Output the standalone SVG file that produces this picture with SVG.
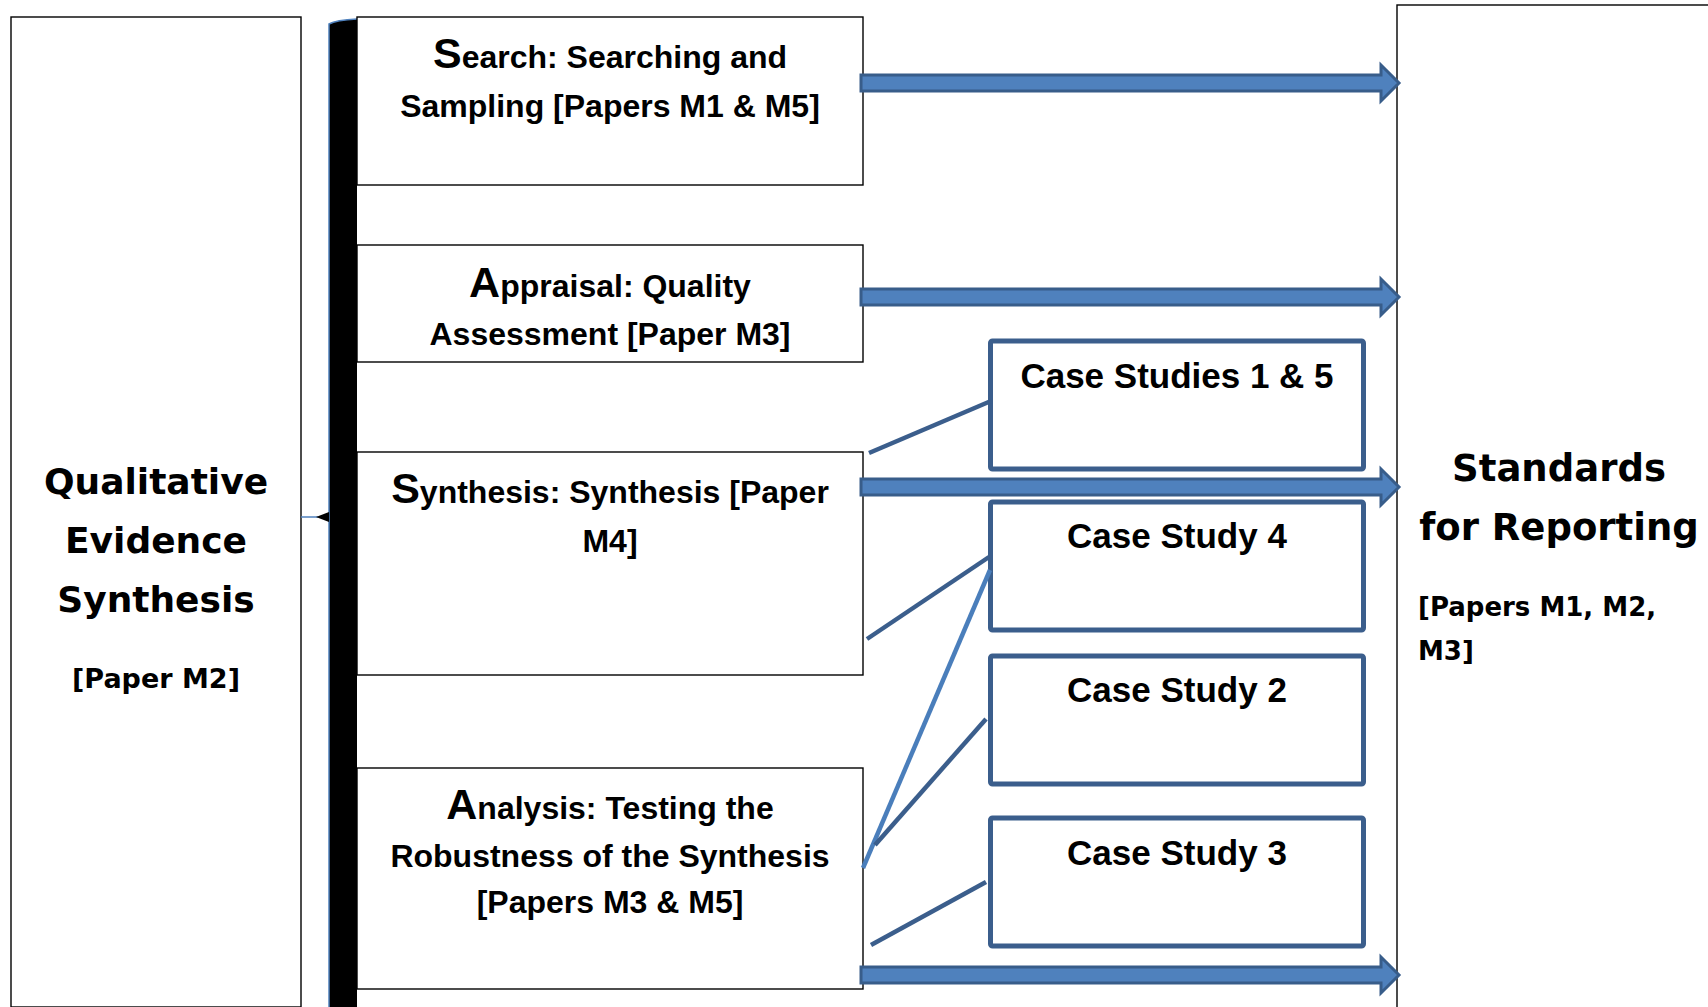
<svg xmlns="http://www.w3.org/2000/svg" width="1708" height="1007" viewBox="0 0 1708 1007">
<style>
.box{fill:#fff;stroke:#000;stroke-width:1.4}
.case{fill:#fff;stroke:#3b5e8c;stroke-width:5}
.pt{font-family:"Liberation Sans",Arial,sans-serif;font-weight:bold;font-size:32px;fill:#000;text-anchor:middle}
.big{font-size:43px}
.ct{font-family:"Liberation Sans",Arial,sans-serif;font-weight:bold;font-size:35px;fill:#000;text-anchor:middle}
.wt{font-family:"DejaVu Sans",sans-serif;font-weight:bold;fill:#000}
.arr{fill:#4f81bd;stroke:#385d8a;stroke-width:3;stroke-linejoin:miter}
.ln{stroke:#3b5e8c;stroke-width:4.5;fill:none}
.lnl{stroke:#4a7ebb;stroke-width:4.5;fill:none}
</style>
<rect width="1708" height="1007" fill="#fff"/>
<g id="qes">
<rect class="box" x="11" y="17" width="290" height="990"/>
<text class="wt" font-size="36" text-anchor="middle"><tspan x="156" y="494">Qualitative</tspan><tspan x="156" y="553">Evidence</tspan><tspan x="156" y="612">Synthesis</tspan></text>
<text class="wt" font-size="27" text-anchor="middle" x="156" y="688">[Paper M2]</text>
</g>
<g id="brace">
<path d="M329,1007 L329,24 Q336,20 357,19 L357,1007 Z" fill="#000"/>
<path d="M329,1007 L329,24 Q336,20 357,19" fill="none" stroke="#4f81bd" stroke-width="1.5"/>
<path d="M301,517 L318,517" stroke="#4f81bd" stroke-width="1.5"/>
<path d="M316,517 L329,512 L329,522 Z" fill="#000"/>
</g>
<g id="standards">
<rect class="box" x="1397" y="5" width="330" height="1020"/>
<text class="wt" font-size="37" text-anchor="middle"><tspan x="1559" y="481">Standards</tspan><tspan x="1559" y="540">for Reporting</tspan></text>
<text class="wt" font-size="26"><tspan x="1418" y="616">[Papers M1, M2,</tspan><tspan x="1418" y="660">M3]</tspan></text>
</g>
<g id="search">
<rect class="box" x="357" y="17" width="506" height="168"/>
<text class="pt" x="610" y="68"><tspan class="big">S</tspan>earch: Searching and</text>
<text class="pt" x="610" y="117">Sampling [Papers M1 &amp; M5]</text>
</g>
<g id="appraisal">
<rect class="box" x="357" y="245" width="506" height="117"/>
<text class="pt" x="610" y="297"><tspan class="big">A</tspan>ppraisal: Quality</text>
<text class="pt" x="610" y="345">Assessment [Paper M3]</text>
</g>
<g id="synthesis">
<rect class="box" x="357" y="452" width="506" height="223"/>
<text class="pt" x="610" y="503"><tspan class="big">S</tspan>ynthesis: Synthesis [Paper</text>
<text class="pt" x="610" y="552">M4]</text>
</g>
<g id="analysis">
<rect class="box" x="357" y="768" width="506" height="221"/>
<text class="pt" x="610" y="819"><tspan class="big">A</tspan>nalysis: Testing the</text>
<text class="pt" x="610" y="867">Robustness of the Synthesis</text>
<text class="pt" x="610" y="913">[Papers M3 &amp; M5]</text>
</g>
<g id="cs15">
<rect class="case" x="990.5" y="341" width="373" height="128" rx="2"/>
<text class="ct" x="1177" y="388">Case Studies 1 &amp; 5</text>
</g>
<g id="cs4">
<rect class="case" x="990.5" y="502" width="373" height="128" rx="2"/>
<text class="ct" x="1177" y="548">Case Study 4</text>
</g>
<g id="cs2">
<rect class="case" x="990.5" y="656" width="373" height="128" rx="2"/>
<text class="ct" x="1177" y="702">Case Study 2</text>
</g>
<g id="cs3">
<rect class="case" x="990.5" y="818" width="373" height="128" rx="2"/>
<text class="ct" x="1177" y="865">Case Study 3</text>
</g>
<g id="connectors">
<path class="arr" d="M861,75 L1381,75 L1381,65 L1399,83 L1381,101 L1381,91 L861,91 Z"/>
<path class="arr" d="M861,289 L1381,289 L1381,279 L1399,297 L1381,315 L1381,305 L861,305 Z"/>
<path class="arr" d="M861,479 L1381,479 L1381,469 L1399,487 L1381,505 L1381,495 L861,495 Z"/>
<path class="arr" d="M861,967 L1381,967 L1381,957 L1399,975 L1381,993 L1381,983 L861,983 Z"/>
<path class="ln" d="M869,453 L991,401"/>
<path class="ln" d="M867,639 L989,557"/>
<path class="lnl" d="M990,570 L863,868"/>
<path class="ln" d="M875,845 L986,719"/>
<path class="ln" d="M871,945 L986,882"/>
</g>
</svg>
